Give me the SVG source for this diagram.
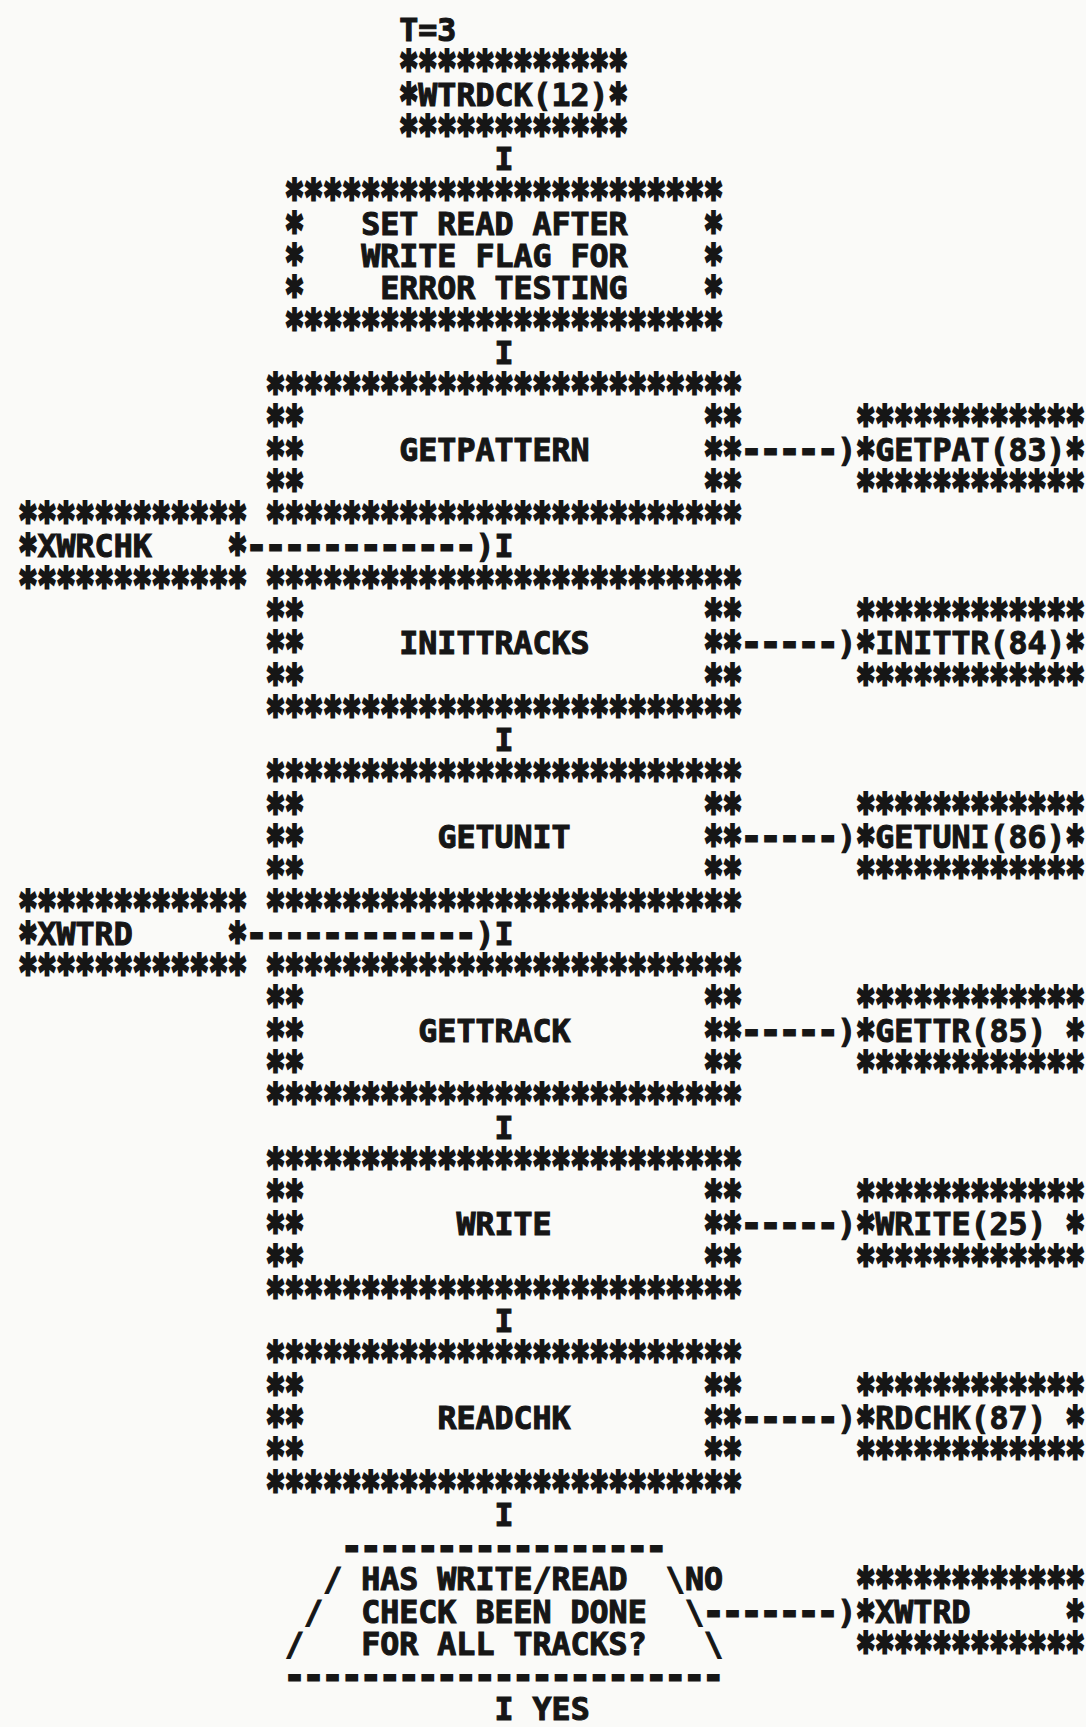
<svg xmlns="http://www.w3.org/2000/svg" width="1086" height="1727" viewBox="0 0 1086 1727">
<style>
text{font-family:"DejaVu Sans Mono","Liberation Mono",monospace;font-weight:bold;font-size:31.62px;fill:#161616;stroke:#161616;stroke-width:1.1px}
text.st{font-size:46px;stroke-width:3px}
text.ds{stroke-width:3px}
</style>
<rect width="1086" height="1727" fill="#fafaf8"/>
<g id="node-wtrdck">
<text x="399.3" y="41">T=3</text>
<text class="st" transform="matrix(0.68759 0 0 1 399.3 0)" y="84.28">************</text>
<text class="st" transform="matrix(0.68759 0 0 1 399.3 0)" y="116.56">*</text>
<text x="418.34" y="105.56">WTRDCK(12)</text>
<text class="st" transform="matrix(0.68759 0 0 1 608.74 0)" y="116.56">*</text>
<text class="st" transform="matrix(0.68759 0 0 1 399.3 0)" y="148.84">************</text>
</g>
<g id="node-setflag">
<text class="st" transform="matrix(0.68759 0 0 1 285.06 0)" y="213.4">***********************</text>
<text class="st" transform="matrix(0.68759 0 0 1 285.06 0)" y="245.68">*</text>
<text class="st" transform="matrix(0.68759 0 0 1 703.94 0)" y="245.68">*</text>
<text class="st" transform="matrix(0.68759 0 0 1 285.06 0)" y="277.96">*</text>
<text class="st" transform="matrix(0.68759 0 0 1 703.94 0)" y="277.96">*</text>
<text class="st" transform="matrix(0.68759 0 0 1 285.06 0)" y="310.24">*</text>
<text class="st" transform="matrix(0.68759 0 0 1 703.94 0)" y="310.24">*</text>
<text x="361.22" y="234.68">SET READ AFTER</text>
<text x="361.22" y="266.96">WRITE FLAG FOR</text>
<text x="380.26" y="299.24">ERROR TESTING</text>
<text class="st" transform="matrix(0.68759 0 0 1 285.06 0)" y="342.52">***********************</text>
</g>
<g id="node-getpattern">
<text class="st" transform="matrix(0.68759 0 0 1 266.02 0)" y="407.08">*************************</text>
<text class="st" transform="matrix(0.68759 0 0 1 266.02 0)" y="439.36">**</text>
<text class="st" transform="matrix(0.68759 0 0 1 703.94 0)" y="439.36">**</text>
<text class="st" transform="matrix(0.68759 0 0 1 266.02 0)" y="471.64">**</text>
<text class="st" transform="matrix(0.68759 0 0 1 703.94 0)" y="471.64">**</text>
<text class="st" transform="matrix(0.68759 0 0 1 266.02 0)" y="503.92">**</text>
<text class="st" transform="matrix(0.68759 0 0 1 703.94 0)" y="503.92">**</text>
<text x="399.3" y="460.64">GETPATTERN</text>
<text class="st" transform="matrix(0.68759 0 0 1 266.02 0)" y="536.2">*************************</text>
</g>
<g id="node-getpat">
<text class="st" transform="matrix(0.68759 0 0 1 856.26 0)" y="439.36">************</text>
<text class="st" transform="matrix(0.68759 0 0 1 856.26 0)" y="471.64">*</text>
<text x="875.3" y="460.64">GETPAT(83)</text>
<text class="st" transform="matrix(0.68759 0 0 1 1065.7 0)" y="471.64">*</text>
<text class="st" transform="matrix(0.68759 0 0 1 856.26 0)" y="503.92">************</text>
</g>
<g id="node-xwrchk">
<text class="st" transform="matrix(0.68759 0 0 1 18.5 0)" y="536.2">************</text>
<text class="st" transform="matrix(0.68759 0 0 1 18.5 0)" y="568.48">*</text>
<text x="37.54" y="557.48">XWRCHK</text>
<text class="st" transform="matrix(0.68759 0 0 1 227.94 0)" y="568.48">*</text>
<text class="st" transform="matrix(0.68759 0 0 1 18.5 0)" y="600.76">************</text>
</g>
<g id="node-inittracks">
<text class="st" transform="matrix(0.68759 0 0 1 266.02 0)" y="600.76">*************************</text>
<text class="st" transform="matrix(0.68759 0 0 1 266.02 0)" y="633.04">**</text>
<text class="st" transform="matrix(0.68759 0 0 1 703.94 0)" y="633.04">**</text>
<text class="st" transform="matrix(0.68759 0 0 1 266.02 0)" y="665.32">**</text>
<text class="st" transform="matrix(0.68759 0 0 1 703.94 0)" y="665.32">**</text>
<text class="st" transform="matrix(0.68759 0 0 1 266.02 0)" y="697.6">**</text>
<text class="st" transform="matrix(0.68759 0 0 1 703.94 0)" y="697.6">**</text>
<text x="399.3" y="654.32">INITTRACKS</text>
<text class="st" transform="matrix(0.68759 0 0 1 266.02 0)" y="729.88">*************************</text>
</g>
<g id="node-inittr">
<text class="st" transform="matrix(0.68759 0 0 1 856.26 0)" y="633.04">************</text>
<text class="st" transform="matrix(0.68759 0 0 1 856.26 0)" y="665.32">*</text>
<text x="875.3" y="654.32">INITTR(84)</text>
<text class="st" transform="matrix(0.68759 0 0 1 1065.7 0)" y="665.32">*</text>
<text class="st" transform="matrix(0.68759 0 0 1 856.26 0)" y="697.6">************</text>
</g>
<g id="node-getunit">
<text class="st" transform="matrix(0.68759 0 0 1 266.02 0)" y="794.44">*************************</text>
<text class="st" transform="matrix(0.68759 0 0 1 266.02 0)" y="826.72">**</text>
<text class="st" transform="matrix(0.68759 0 0 1 703.94 0)" y="826.72">**</text>
<text class="st" transform="matrix(0.68759 0 0 1 266.02 0)" y="859">**</text>
<text class="st" transform="matrix(0.68759 0 0 1 703.94 0)" y="859">**</text>
<text class="st" transform="matrix(0.68759 0 0 1 266.02 0)" y="891.28">**</text>
<text class="st" transform="matrix(0.68759 0 0 1 703.94 0)" y="891.28">**</text>
<text x="437.38" y="848">GETUNIT</text>
<text class="st" transform="matrix(0.68759 0 0 1 266.02 0)" y="923.56">*************************</text>
</g>
<g id="node-getuni">
<text class="st" transform="matrix(0.68759 0 0 1 856.26 0)" y="826.72">************</text>
<text class="st" transform="matrix(0.68759 0 0 1 856.26 0)" y="859">*</text>
<text x="875.3" y="848">GETUNI(86)</text>
<text class="st" transform="matrix(0.68759 0 0 1 1065.7 0)" y="859">*</text>
<text class="st" transform="matrix(0.68759 0 0 1 856.26 0)" y="891.28">************</text>
</g>
<g id="node-xwtrd-left">
<text class="st" transform="matrix(0.68759 0 0 1 18.5 0)" y="923.56">************</text>
<text class="st" transform="matrix(0.68759 0 0 1 18.5 0)" y="955.84">*</text>
<text x="37.54" y="944.84">XWTRD</text>
<text class="st" transform="matrix(0.68759 0 0 1 227.94 0)" y="955.84">*</text>
<text class="st" transform="matrix(0.68759 0 0 1 18.5 0)" y="988.12">************</text>
</g>
<g id="node-gettrack">
<text class="st" transform="matrix(0.68759 0 0 1 266.02 0)" y="988.12">*************************</text>
<text class="st" transform="matrix(0.68759 0 0 1 266.02 0)" y="1020.4">**</text>
<text class="st" transform="matrix(0.68759 0 0 1 703.94 0)" y="1020.4">**</text>
<text class="st" transform="matrix(0.68759 0 0 1 266.02 0)" y="1052.68">**</text>
<text class="st" transform="matrix(0.68759 0 0 1 703.94 0)" y="1052.68">**</text>
<text class="st" transform="matrix(0.68759 0 0 1 266.02 0)" y="1084.96">**</text>
<text class="st" transform="matrix(0.68759 0 0 1 703.94 0)" y="1084.96">**</text>
<text x="418.34" y="1041.68">GETTRACK</text>
<text class="st" transform="matrix(0.68759 0 0 1 266.02 0)" y="1117.24">*************************</text>
</g>
<g id="node-gettr">
<text class="st" transform="matrix(0.68759 0 0 1 856.26 0)" y="1020.4">************</text>
<text class="st" transform="matrix(0.68759 0 0 1 856.26 0)" y="1052.68">*</text>
<text x="875.3" y="1041.68">GETTR(85)</text>
<text class="st" transform="matrix(0.68759 0 0 1 1065.7 0)" y="1052.68">*</text>
<text class="st" transform="matrix(0.68759 0 0 1 856.26 0)" y="1084.96">************</text>
</g>
<g id="node-write">
<text class="st" transform="matrix(0.68759 0 0 1 266.02 0)" y="1181.8">*************************</text>
<text class="st" transform="matrix(0.68759 0 0 1 266.02 0)" y="1214.08">**</text>
<text class="st" transform="matrix(0.68759 0 0 1 703.94 0)" y="1214.08">**</text>
<text class="st" transform="matrix(0.68759 0 0 1 266.02 0)" y="1246.36">**</text>
<text class="st" transform="matrix(0.68759 0 0 1 703.94 0)" y="1246.36">**</text>
<text class="st" transform="matrix(0.68759 0 0 1 266.02 0)" y="1278.64">**</text>
<text class="st" transform="matrix(0.68759 0 0 1 703.94 0)" y="1278.64">**</text>
<text x="456.42" y="1235.36">WRITE</text>
<text class="st" transform="matrix(0.68759 0 0 1 266.02 0)" y="1310.92">*************************</text>
</g>
<g id="node-write25">
<text class="st" transform="matrix(0.68759 0 0 1 856.26 0)" y="1214.08">************</text>
<text class="st" transform="matrix(0.68759 0 0 1 856.26 0)" y="1246.36">*</text>
<text x="875.3" y="1235.36">WRITE(25)</text>
<text class="st" transform="matrix(0.68759 0 0 1 1065.7 0)" y="1246.36">*</text>
<text class="st" transform="matrix(0.68759 0 0 1 856.26 0)" y="1278.64">************</text>
</g>
<g id="node-readchk">
<text class="st" transform="matrix(0.68759 0 0 1 266.02 0)" y="1375.48">*************************</text>
<text class="st" transform="matrix(0.68759 0 0 1 266.02 0)" y="1407.76">**</text>
<text class="st" transform="matrix(0.68759 0 0 1 703.94 0)" y="1407.76">**</text>
<text class="st" transform="matrix(0.68759 0 0 1 266.02 0)" y="1440.04">**</text>
<text class="st" transform="matrix(0.68759 0 0 1 703.94 0)" y="1440.04">**</text>
<text class="st" transform="matrix(0.68759 0 0 1 266.02 0)" y="1472.32">**</text>
<text class="st" transform="matrix(0.68759 0 0 1 703.94 0)" y="1472.32">**</text>
<text x="437.38" y="1429.04">READCHK</text>
<text class="st" transform="matrix(0.68759 0 0 1 266.02 0)" y="1504.6">*************************</text>
</g>
<g id="node-rdchk">
<text class="st" transform="matrix(0.68759 0 0 1 856.26 0)" y="1407.76">************</text>
<text class="st" transform="matrix(0.68759 0 0 1 856.26 0)" y="1440.04">*</text>
<text x="875.3" y="1429.04">RDCHK(87)</text>
<text class="st" transform="matrix(0.68759 0 0 1 1065.7 0)" y="1440.04">*</text>
<text class="st" transform="matrix(0.68759 0 0 1 856.26 0)" y="1472.32">************</text>
</g>
<g id="node-decision">
<text class="ds" x="342.18" y="1558.16">-----------------</text>
<text x="323.14" y="1590.44">/</text>
<text x="361.22" y="1590.44">HAS WRITE/READ</text>
<text x="665.86" y="1590.44">\</text>
<text x="304.1" y="1622.72">/</text>
<text x="361.22" y="1622.72">CHECK BEEN DONE</text>
<text x="684.9" y="1622.72">\</text>
<text x="285.06" y="1655">/</text>
<text x="361.22" y="1655">FOR ALL TRACKS?</text>
<text x="703.94" y="1655">\</text>
<text class="ds" x="285.06" y="1687.28">-----------------------</text>
</g>
<g id="node-xwtrd-right">
<text class="st" transform="matrix(0.68759 0 0 1 856.26 0)" y="1601.44">************</text>
<text class="st" transform="matrix(0.68759 0 0 1 856.26 0)" y="1633.72">*</text>
<text x="875.3" y="1622.72">XWTRD</text>
<text class="st" transform="matrix(0.68759 0 0 1 1065.7 0)" y="1633.72">*</text>
<text class="st" transform="matrix(0.68759 0 0 1 856.26 0)" y="1666">************</text>
</g>
<g id="connectors">
<text x="494.5" y="170.12">I</text>
<text x="494.5" y="363.8">I</text>
<text x="494.5" y="751.16">I</text>
<text x="494.5" y="1138.52">I</text>
<text x="494.5" y="1332.2">I</text>
<text x="494.5" y="1525.88">I</text>
<text x="494.5" y="1719.56">I</text>
<text x="532.58" y="1719.56">YES</text>
<text class="ds" x="246.98" y="557.48">------------</text>
<text x="475.46" y="557.48">)</text>
<text x="494.5" y="557.48">I</text>
<text class="ds" x="246.98" y="944.84">------------</text>
<text x="475.46" y="944.84">)</text>
<text x="494.5" y="944.84">I</text>
<text class="ds" x="742.02" y="460.64">-----</text>
<text x="837.22" y="460.64">)</text>
<text class="ds" x="742.02" y="654.32">-----</text>
<text x="837.22" y="654.32">)</text>
<text class="ds" x="742.02" y="848">-----</text>
<text x="837.22" y="848">)</text>
<text class="ds" x="742.02" y="1041.68">-----</text>
<text x="837.22" y="1041.68">)</text>
<text class="ds" x="742.02" y="1235.36">-----</text>
<text x="837.22" y="1235.36">)</text>
<text class="ds" x="742.02" y="1429.04">-----</text>
<text x="837.22" y="1429.04">)</text>
<text class="ds" x="703.94" y="1622.72">-------</text>
<text x="837.22" y="1622.72">)</text>
<text x="684.9" y="1590.44">NO</text>
</g>
</svg>
